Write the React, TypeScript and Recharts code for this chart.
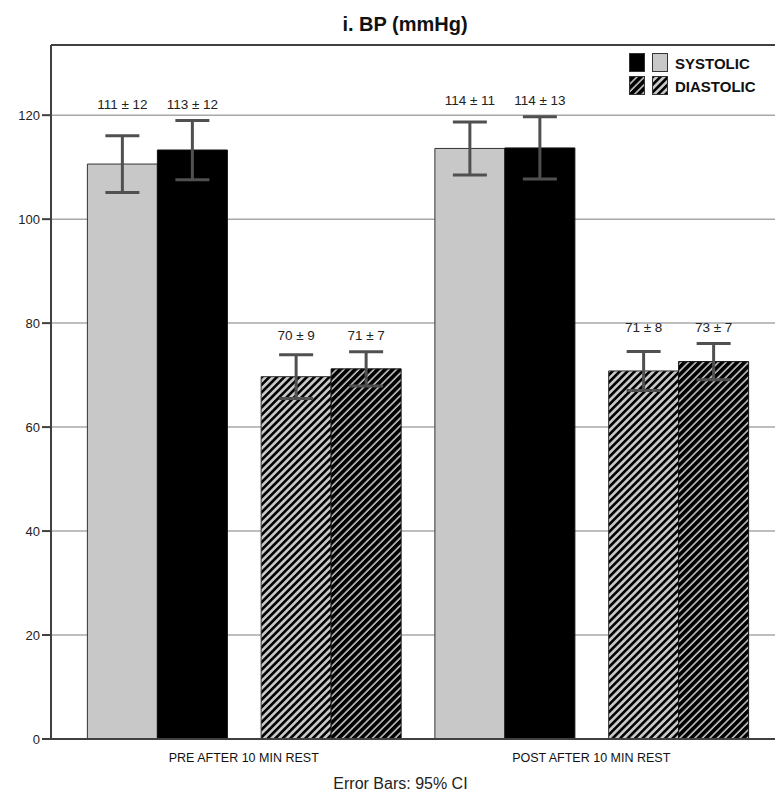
import React from 'react';
import {
  BarChart,
  Bar,
  XAxis,
  YAxis,
  CartesianGrid,
  ErrorBar,
  LabelList,
  ReferenceLine,
  Cell,
} from 'recharts';

// one category per measurement block, two bars (light / dark) in each
const categories = ['PRE SYS', 'PRE DIA', 'POST SYS', 'POST DIA'];
const groups = [
  'PRE AFTER 10 MIN REST',
  'PRE AFTER 10 MIN REST',
  'POST AFTER 10 MIN REST',
  'POST AFTER 10 MIN REST',
];
const kinds = ['systolic', 'diastolic', 'systolic', 'diastolic'];
const lightMeans = [110.6, 69.7, 113.6, 70.8];
const darkMeans = [113.3, 71.2, 113.7, 72.6];
const lightCI = [5.45, 4.2, 5.1, 3.75];
const darkCI = [5.7, 3.3, 6.0, 3.5];
const lightText = ['111 ± 12', '70 ± 9', '114 ± 11', '71 ± 8'];
const darkText = ['113 ± 12', '71 ± 7', '114 ± 13', '73 ± 7'];
const yTicks = [0, 20, 40, 60, 80, 100, 120];
const Y_MAX = 133.5;

const FONT = '"Liberation Sans", Arial, sans-serif';
const AXIS = '#404040';

const data = categories.map((cat, i) => ({
  cat,
  group: groups[i],
  light: lightMeans[i],
  dark: darkMeans[i],
  lightErr: lightCI[i],
  darkErr: darkCI[i],
}));

function lightFill(kind: string) {
  return kind === 'systolic' ? '#c8c8c8' : 'url(#hatchLight)';
}
function darkFill(kind: string) {
  return kind === 'systolic' ? '#000000' : 'url(#hatchDark)';
}

// label sits a fixed distance above the taller CI whisker of the pair
function makeLabel(texts: string[]) {
  return (props: any) => {
    const vb = props.viewBox ?? {};
    const x = props.x ?? vb.x;
    const y = props.y ?? vb.y;
    const width = props.width ?? vb.width;
    const height = props.height ?? vb.height;
    const { value, index } = props;
    if (!height || !value) return null;
    const perUnit = height / value;
    const base = y + height;
    const top = Math.max(
      lightMeans[index] + lightCI[index],
      darkMeans[index] + darkCI[index],
    );
    const cy = base - top * perUnit - 16;
    return (
      <text
        x={x + width / 2}
        y={cy}
        textAnchor="middle"
        dominantBaseline="central"
        fontSize={13.5}
        fontFamily={FONT}
        fill="#222"
      >
        {texts[index]}
      </text>
    );
  };
}

function Patterns() {
  return (
    <svg width={0} height={0} style={{ position: 'absolute' }}>
      <defs>
        <pattern id="hatchLight" width={5.3} height={5.3} patternUnits="userSpaceOnUse" patternTransform="rotate(45)">
          <rect width={5.3} height={5.3} fill="#c8c8c8" />
          <line x1={1.3} y1={0} x2={1.3} y2={5.3} stroke="#000" strokeWidth={2.6} />
        </pattern>
        <pattern id="hatchDark" width={5.3} height={5.3} patternUnits="userSpaceOnUse" patternTransform="rotate(45)">
          <rect width={5.3} height={5.3} fill="#000" />
          <line x1={1} y1={0} x2={1} y2={5.3} stroke="#d0d0d0" strokeWidth={1.5} />
        </pattern>
      </defs>
    </svg>
  );
}

function Swatch({ fill, x, y }: { fill: string; x: number; y: number }) {
  return (
    <svg width={16} height={19} style={{ position: 'absolute', left: x, top: y }}>
      <rect x={0.5} y={0.5} width={15} height={18} fill={fill} stroke="#333" strokeWidth={1} />
    </svg>
  );
}

function LegendBox() {
  const text: React.CSSProperties = {
    position: 'absolute',
    left: 675,
    fontFamily: FONT,
    fontWeight: 'bold',
    fontSize: 15,
    color: '#111',
    lineHeight: '19px',
  };
  return (
    <>
      <Swatch fill={darkFill('systolic')} x={629} y={53} />
      <Swatch fill={lightFill('systolic')} x={652} y={53} />
      <div style={{ ...text, top: 54 }}>SYSTOLIC</div>
      <Swatch fill={darkFill('diastolic')} x={629} y={76} />
      <Swatch fill={lightFill('diastolic')} x={652} y={76} />
      <div style={{ ...text, top: 77 }}>DIASTOLIC</div>
    </>
  );
}

export default function App() {
  return (
    <div style={{ position: 'absolute', left: 0, top: 0, width: 775, height: 796, background: '#fff' }}>
      <Patterns />
      <div
        style={{
          position: 'absolute',
          left: 0,
          width: 810,
          top: 12,
          textAlign: 'center',
          fontFamily: FONT,
          fontWeight: 'bold',
          fontSize: 20,
          color: '#111',
          lineHeight: '24px',
        }}
      >
        i. BP (mmHg)
      </div>

      <BarChart
        width={775}
        height={796}
        data={data}
        margin={{ top: 45, right: 0, bottom: 26, left: 0 }}
        barCategoryGap="10%"
        barGap={0}
        style={{ fontFamily: FONT }}
      >
        <CartesianGrid vertical={false} stroke="#a8a8a8" strokeWidth={1.5} />
        <XAxis
          dataKey="cat"
          tick={false}
          tickLine={false}
          height={1}
          axisLine={{ stroke: AXIS, strokeWidth: 2 }}
          padding={{ left: 19, right: 10 }}
        />
        <XAxis
          xAxisId="grp"
          dataKey="group"
          allowDuplicatedCategory={false}
          axisLine={false}
          tickLine={false}
          tick={{ fontSize: 12.5, fill: '#111' }}
          tickMargin={7}
          height={30}
          padding={{ left: 19, right: 10 }}
        />
        <YAxis
          width={51}
          domain={[0, Y_MAX]}
          ticks={yTicks}
          allowDataOverflow
          tick={{ fontSize: 13, fill: '#222' }}
          tickSize={9}
          tickMargin={2}
          tickLine={{ stroke: AXIS, strokeWidth: 2 }}
          axisLine={{ stroke: AXIS, strokeWidth: 2 }}
        />
        <ReferenceLine y={Y_MAX} stroke={AXIS} strokeWidth={2} />
        <Bar dataKey="light" stroke="#333" strokeWidth={1} isAnimationActive={false}>
          {kinds.map((k, i) => (
            <Cell key={i} fill={lightFill(k)} />
          ))}
          <ErrorBar dataKey="lightErr" width={17} stroke="#505050" strokeWidth={3} direction="y" />
          <LabelList dataKey="light" content={makeLabel(lightText)} />
        </Bar>
        <Bar dataKey="dark" stroke="#111" strokeWidth={1} isAnimationActive={false}>
          {kinds.map((k, i) => (
            <Cell key={i} fill={darkFill(k)} />
          ))}
          <ErrorBar dataKey="darkErr" width={17} stroke="#505050" strokeWidth={3} direction="y" />
          <LabelList dataKey="dark" content={makeLabel(darkText)} />
        </Bar>
      </BarChart>

      <LegendBox />

      <div
        style={{
          position: 'absolute',
          left: 0,
          width: 801,
          top: 774,
          textAlign: 'center',
          fontFamily: FONT,
          fontSize: 16,
          color: '#222',
          lineHeight: '20px',
        }}
      >
        Error Bars: 95% CI
      </div>
    </div>
  );
}
